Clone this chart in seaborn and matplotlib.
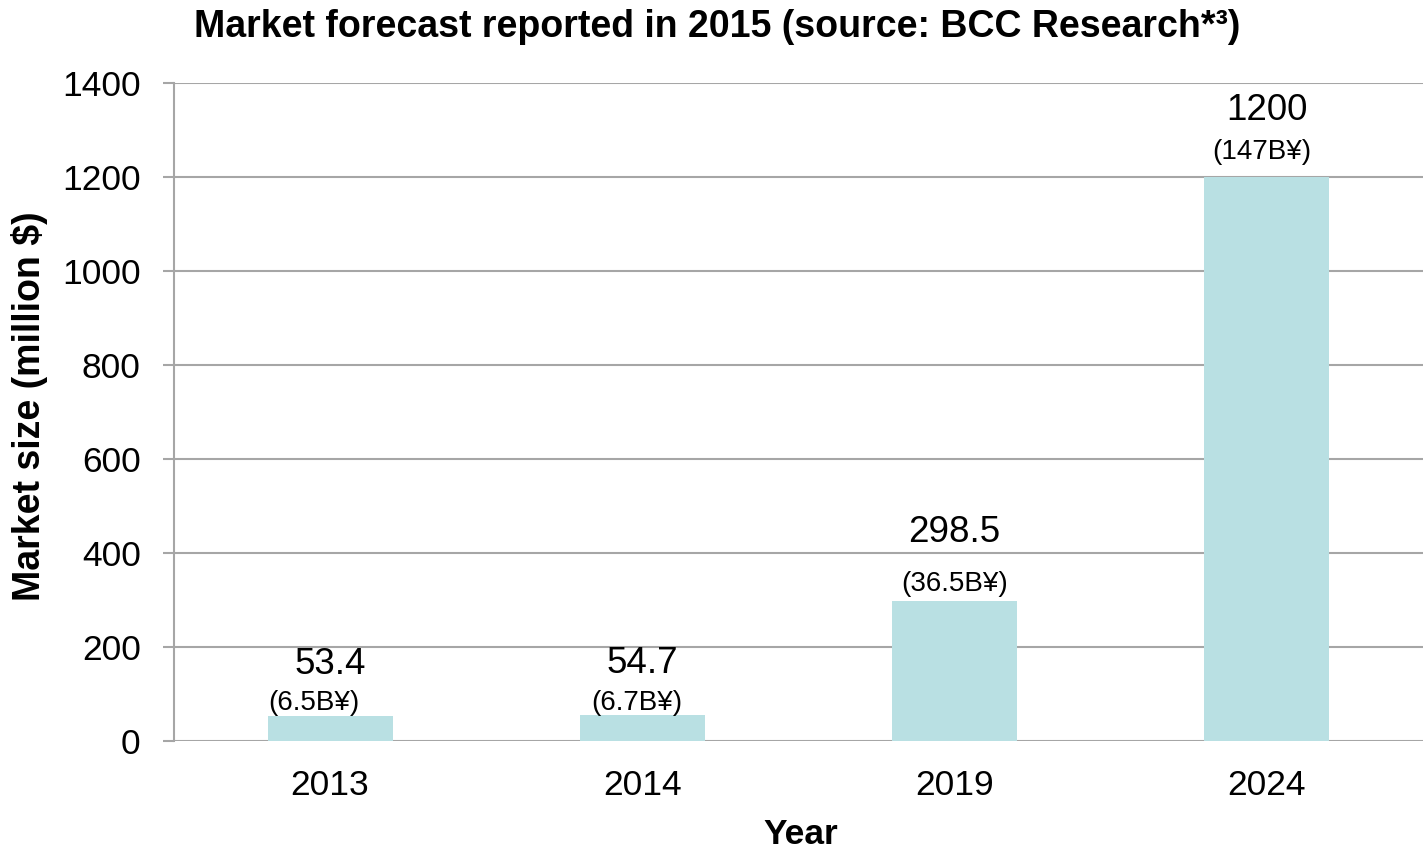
import matplotlib
matplotlib.use("Agg")
import matplotlib.pyplot as plt
import seaborn as sns
import pandas as pd

# Market size forecast data
years = ["2013", "2014", "2019", "2024"]
market_usd_million = [53.4, 54.7, 298.5, 1200]
value_labels = ["53.4", "54.7", "298.5", "1200"]
yen_labels = ["(6.5B¥)", "(6.7B¥)", "(36.5B¥)", "(147B¥)"]
y_ticks = [0, 200, 400, 600, 800, 1000, 1200, 1400]

# label layout: (dx, dy) offsets in points above bar top
yen_offsets = [(-12, 9), (-4, 9), (0, 12), (-4, 18)]
value_offsets = [(0, 37), (0, 37), (0, 49), (0, 48)]

df = pd.DataFrame({"Year": years, "Market": market_usd_million})

sns.set_theme(style="white")
plt.rcParams["font.family"] = ["Liberation Sans", "DejaVu Sans"]
plt.rcParams["text.color"] = "black"

fig = plt.figure(figsize=(14.23, 8.51), dpi=100)
ax = fig.add_axes([174 / 1423, 1 - 741 / 851, (1423 - 174) / 1423, (741 - 83) / 851])

grid_color = "#a6a6a6"
sns.barplot(data=df, x="Year", y="Market", color="#b9e0e3", width=0.4,
            saturation=1, linewidth=0, ax=ax, zorder=3)

ax.set_ylim(0, 1400)
ax.set_xlim(-0.5, 3.5)
ax.set_yticks(y_ticks)
ax.set_yticklabels([str(t) for t in y_ticks])
ax.yaxis.grid(True, color=grid_color, linewidth=1.5, zorder=0)
ax.set_axisbelow(True)

for side in ["top", "right", "bottom"]:
    ax.spines[side].set_visible(False)
ax.spines["left"].set_color(grid_color)
ax.spines["left"].set_linewidth(1.5)

ax.tick_params(axis="y", which="major", left=True, length=8, width=1.5,
               color=grid_color, pad=16, labelsize=25.5, labelcolor="black")
ax.tick_params(axis="x", which="major", bottom=False, length=0, pad=20,
               labelsize=25.5, labelcolor="black")

for i, (v, vl, yl) in enumerate(zip(market_usd_million, value_labels, yen_labels)):
    ax.annotate(yl, xy=(i, v), xytext=yen_offsets[i], textcoords="offset points",
                ha="center", va="center", fontsize=20, color="black")
    ax.annotate(vl, xy=(i, v), xytext=value_offsets[i], textcoords="offset points",
                ha="center", va="center", fontsize=26.5, color="black")

ax.set_xlabel("")
ax.set_ylabel("")
fig.text(30 / 1423, 1 - 406 / 851, "Market size (million $)", rotation=90,
         ha="center", va="center", fontsize=27, fontweight="bold", color="black")
fig.text(801 / 1423, 1 - 835 / 851, "Year", ha="center", va="center",
         fontsize=25.5, fontweight="bold", color="black")
fig.text(717 / 1423, 1 - 27 / 851, "Market forecast reported in 2015 (source: BCC Research*³)",
         ha="center", va="center", fontsize=27, fontweight="bold", color="black")

fig.savefig("out.png", dpi=100)
